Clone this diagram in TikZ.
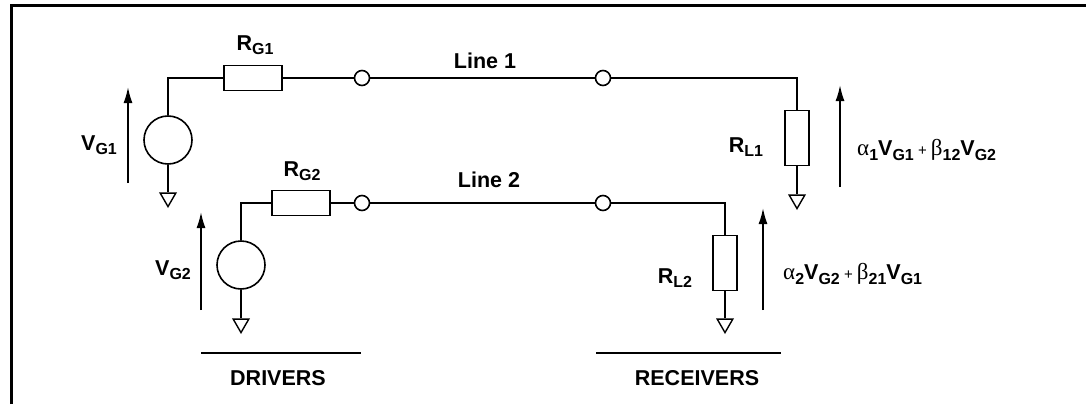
\documentclass[tikz,border=0pt]{standalone}
\usepackage{fontspec}
\setsansfont{Liberation Sans}
\newfontfamily\greekfont{Liberation Serif}
\usetikzlibrary{shapes.geometric,arrows.meta}

\newcommand{\lowsub}[1]{\raisebox{-4.5pt}{\fontsize{16}{16}\selectfont #1}}
\newcommand{\plussign}{{\fontsize{15}{15}\selectfont\mdseries\ +\ }}

\tikzset{
  wire/.style={line width=1.6pt},
  hres/.style={draw, line width=1.6pt, rectangle, inner sep=0pt, minimum width=58pt, minimum height=25pt},
  vres/.style={draw, line width=1.6pt, rectangle, inner sep=0pt, minimum width=24pt, minimum height=55pt},
  src/.style={draw, line width=1.6pt, circle, inner sep=0pt, minimum size=48pt},
  term/.style={draw, line width=1.6pt, circle, fill=white, inner sep=0pt, minimum size=15pt},
  gnd/.style={draw, line width=1.4pt, regular polygon, regular polygon sides=3, shape border rotate=180, inner sep=0pt, minimum size=18pt},
  lbl/.style={font=\sffamily\bfseries\fontsize{21.5}{24}\selectfont, inner sep=0pt},
  volt/.style={line width=1.8pt, -{Latex[length=16pt,width=9pt]}}
}

\begin{document}
\begin{tikzpicture}[x=1pt, y=-1pt]
  \useasboundingbox (0,0) rectangle (1086,404);
  % frame
  \draw[line width=3pt] (11.5,404) -- (11.5,6) -- (1086,6);

  % line 1
  \node[src] (vg1) at (168,140) {};
  \node[hres] (rg1) at (253,78) {};
  \node[term] (t1a) at (362,78) {};
  \node[term] (t1b) at (603,78) {};
  \node[vres] (rl1) at (797,138) {};
  \node[gnd] (g1) at (168,197.6) {};
  \node[gnd] (g3) at (797,199.6) {};
  \draw[wire] (vg1.north) |- (rg1.west);
  \draw[wire] (rg1.east) -- (t1a.west);
  \draw[wire] (t1a.east) -- (t1b.west);
  \draw[wire] (t1b.east) -| (rl1.north);
  \draw[wire] (rl1.south) -- (g3.north);
  \draw[wire] (vg1.south) -- (g1.north);

  % line 2
  \node[src] (vg2) at (241,265) {};
  \node[hres] (rg2) at (301,203) {};
  \node[term] (t2a) at (362,203) {};
  \node[term] (t2b) at (603,203) {};
  \node[vres] (rl2) at (725,263) {};
  \node[gnd] (g2) at (241,323.6) {};
  \node[gnd] (g4) at (725,323.6) {};
  \draw[wire] (vg2.north) |- (rg2.west);
  \draw[wire] (rg2.east) -- (t2a.west);
  \draw[wire] (t2a.east) -- (t2b.west);
  \draw[wire] (t2b.east) -| (rl2.north);
  \draw[wire] (rl2.south) -- (g4.north);
  \draw[wire] (vg2.south) -- (g2.north);

  % voltage arrows
  \coordinate (a1s) at (128,183);  \coordinate (a1e) at (128,87);
  \coordinate (a2s) at (201,310);  \coordinate (a2e) at (201,212);
  \coordinate (a3s) at (840,187);  \coordinate (a3e) at (840,85);
  \coordinate (a4s) at (763,310);  \coordinate (a4e) at (763,208);
  \draw[volt] (a1s) -- (a1e);
  \draw[volt] (a2s) -- (a2e);
  \draw[volt] (a3s) -- (a3e);
  \draw[volt] (a4s) -- (a4e);

  % labels
  \node[lbl] (lrg1) at (255,45) {R\lowsub{G1}};
  \node[lbl] (lrg2) at (302,171) {R\lowsub{G2}};
  \node[lbl] (lline1) at (485,61) {Line 1};
  \node[lbl] (lline2) at (489,180) {Line 2};
  \node[lbl] (lvg1) at (99,145) {V\lowsub{G1}};
  \node[lbl] (lvg2) at (173,270) {V\lowsub{G2}};
  \node[lbl] (lrl1) at (746,147) {R\lowsub{L1}};
  \node[lbl] (lrl2) at (675,278) {R\lowsub{L2}};
  \node[lbl, anchor=west] (lout1) at (857,150)
    {{\greekfont\mdseries\fontsize{23}{24}\selectfont α}\lowsub{1}V\lowsub{G1}\plussign{\greekfont\mdseries\fontsize{23}{24}\selectfont β}\lowsub{12}V\lowsub{G2}};
  \node[lbl, anchor=west] (lout2) at (783,274)
    {{\greekfont\mdseries\fontsize{23}{24}\selectfont α}\lowsub{2}V\lowsub{G2}\plussign{\greekfont\mdseries\fontsize{23}{24}\selectfont β}\lowsub{21}V\lowsub{G1}};

  % groups
  \coordinate (drvl) at (201,353); \coordinate (drvr) at (361,353);
  \coordinate (rcvl) at (596,353); \coordinate (rcvr) at (781,353);
  \draw[wire] (drvl) -- (drvr);
  \draw[wire] (rcvl) -- (rcvr);
  \node[lbl] (ldrv) at (278,378) {DRIVERS};
  \node[lbl] (lrcv) at (697,378) {RECEIVERS};
\end{tikzpicture}
\end{document}
